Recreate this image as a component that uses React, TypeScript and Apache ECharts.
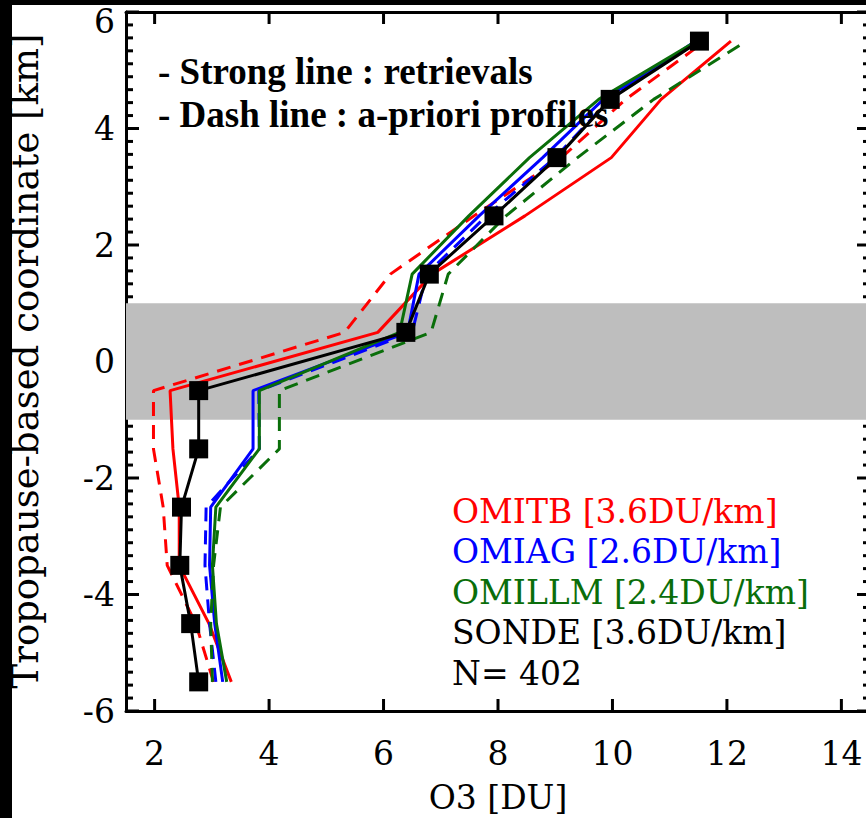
import React, { useEffect, useRef } from "react";
import * as echarts from "echarts";

// Tropopause-based layer centers (km)
const levels = [-5.5, -4.5, -3.5, -2.5, -1.5, -0.5, 0.5, 1.5, 2.5, 3.5, 4.5, 5.5];

// O3 [DU] per layer, bottom to top
const sonde = [2.77, 2.63, 2.44, 2.47, 2.77, 2.77, 6.39, 6.8, 7.93, 9.03, 9.96, 11.52];
const omitbRetrieval = [3.34, 2.95, 2.43, 2.43, 2.32, 2.27, 5.9, 6.85, 8.47, 9.98, 10.85, 12.07];
const omitbApriori = [3.03, 2.72, 2.22, 2.15, 1.98, 1.98, 5.32, 6.12, 7.58, 9.11, 10.23, 11.62];
const omiagRetrieval = [3.19, 3.05, 2.96, 2.98, 3.72, 3.72, 6.42, 6.62, 7.67, 8.78, 9.84, 11.5];
const omiagApriori = [3.07, 2.96, 2.88, 2.9, 3.83, 3.82, 6.5, 6.75, 7.8, 9.0, 9.95, 11.45];
const omillmRetrieval = [3.26, 3.08, 3.01, 3.07, 3.83, 3.83, 6.28, 6.5, 7.49, 8.55, 9.76, 11.47];
const omillmApriori = [3.01, 2.98, 3.03, 3.15, 4.18, 4.18, 6.83, 7.13, 8.14, 9.39, 10.72, 12.34];

const xTicks = [2, 4, 6, 8, 10, 12, 14];
const yTicks = [-6, -4, -2, 0, 2, 4, 6];
const yMinorPerMajor = 9;
const tropopauseBand = [-1, 1];

const legendLines = [
  "OMITB [3.6DU/km]",
  "OMIAG [2.6DU/km]",
  "OMILLM [2.4DU/km]",
  "SONDE [3.6DU/km]",
  "N= 402",
];
const noteLines = ["- Strong line : retrievals", "- Dash line : a-priori profiles"];

const RED = "#ff0000";
const BLUE = "#0000ff";
const GREEN = "#0a6e0a";
const BLACK = "#000000";
const legendColors = [RED, BLUE, GREEN, BLACK, BLACK];

const pairs = (xs: number[]) => xs.map((x, i) => [x, levels[i]]);

const SERIF = '"DejaVu Serif", serif';

export default function App() {
  const ref = useRef<HTMLDivElement>(null);

  useEffect(() => {
    if (!ref.current) return;
    const chart = echarts.init(ref.current, undefined, { renderer: "svg" });

    const lineSeries = (name: string, data: number[], color: string, dashed: boolean, z: number) => ({
      name,
      type: "line",
      data: pairs(data),
      showSymbol: false,
      symbol: "none",
      silent: true,
      z,
      lineStyle: { color, width: 3, type: dashed ? [14, 9] : "solid" },
    });

    const yMin = yTicks[0];
    const yMax = yTicks[yTicks.length - 1];
    const xMin = 1.5;
    const xMax = 14.5;

    // tick marks on the four frame sides: [x, y, dxPixels, dyPixels]
    const tickMarks: number[][] = [];
    yTicks.forEach((v) => {
      tickMarks.push([xMin, v, 13, 0]);
      tickMarks.push([xMax, v, -13, 0]);
    });
    for (let i = 0; i < yTicks.length - 1; i++) {
      for (let k = 1; k < yMinorPerMajor; k++) {
        const v = yTicks[i] + ((yTicks[i + 1] - yTicks[i]) * k) / yMinorPerMajor;
        tickMarks.push([xMin, v, 7, 0]);
        tickMarks.push([xMax, v, -7, 0]);
      }
    }
    xTicks.forEach((v) => {
      tickMarks.push([v, yMin, 0, -12]);
      tickMarks.push([v, yMax, 0, 12]);
    });

    const frameY = (pos: string) => ({
      type: "value",
      position: pos,
      min: yMin,
      max: yMax,
      interval: 2,
      axisLine: { show: true, onZero: false, lineStyle: { color: BLACK, width: 3 } },
      axisTick: { show: false },
      axisLabel: { show: false },
      splitLine: { show: false },
    });
    const frameX = (pos: string) => ({
      type: "value",
      position: pos,
      min: xMin,
      max: xMax,
      splitNumber: 7,
      axisLine: { show: true, onZero: false, lineStyle: { color: BLACK, width: 3 } },
      axisTick: { show: false },
      axisLabel: { show: false },
      splitLine: { show: false },
    });

    chart.setOption({
      animation: false,
      grid: { left: 126, top: 12, width: 744, height: 699 },
      xAxis: [
        {
          ...frameX("bottom"),
          axisLabel: {
            show: true,
            customValues: xTicks,
            fontFamily: SERIF,
            fontSize: 33,
            color: BLACK,
            margin: 26,
          },
        },
        frameX("top"),
      ],
      yAxis: [
        {
          ...frameY("left"),
          axisLabel: {
            show: true,
            fontFamily: SERIF,
            fontSize: 33,
            color: BLACK,
            margin: 11,
            formatter: (v: number) => (v === yMax ? "{top|" + v + "}" : String(v)),
            rich: {
              top: { fontFamily: SERIF, fontSize: 33, color: BLACK, padding: [18, 0, 0, 0] },
            },
          },
        },
        frameY("right"),
      ],
      series: [
        {
          name: "ticks",
          type: "custom",
          xAxisIndex: 0,
          yAxisIndex: 0,
          z: 0,
          silent: true,
          clip: false,
          encode: { x: 0, y: 1 },
          data: tickMarks,
          renderItem: (params: any, api: any) => {
            const p = api.coord([api.value(0), api.value(1)]);
            return {
              type: "line",
              shape: { x1: p[0], y1: p[1], x2: p[0] + api.value(2), y2: p[1] + api.value(3) },
              style: { stroke: BLACK, lineWidth: 3 },
            };
          },
        },
        {
          name: "band",
          type: "line",
          data: [],
          z: 1,
          silent: true,
          markArea: {
            silent: true,
            itemStyle: { color: "#bebebe" },
            data: [[{ yAxis: tropopauseBand[0] }, { yAxis: tropopauseBand[1] }]],
          },
        },
        lineSeries("OMITB a-priori", omitbApriori, RED, true, 3),
        lineSeries("OMITB", omitbRetrieval, RED, false, 3),
        lineSeries("OMIAG a-priori", omiagApriori, BLUE, true, 3),
        lineSeries("OMIAG", omiagRetrieval, BLUE, false, 3),
        lineSeries("OMILLM a-priori", omillmApriori, GREEN, true, 3),
        lineSeries("OMILLM", omillmRetrieval, GREEN, false, 3),
        {
          name: "SONDE",
          type: "line",
          data: pairs(sonde),
          symbol: "rect",
          symbolSize: 19,
          showSymbol: true,
          silent: true,
          z: 4,
          itemStyle: { color: BLACK },
          lineStyle: { color: BLACK, width: 3 },
        },
      ],
      graphic: [
        ...noteLines.map((t, i) => ({
          type: "text",
          x: 158,
          y: 71 + i * 43,
          z: 50,
          style: {
            text: t,
            fill: BLACK,
            font: 'bold 37px "Liberation Serif", "Times New Roman", serif',
            align: "left",
            verticalAlign: "middle",
          },
        })),
        ...legendLines.map((t, i) => ({
          type: "text",
          x: 452,
          y: 511 + i * 40.5,
          z: 50,
          style: {
            text: t,
            fill: legendColors[i],
            font: '33px "DejaVu Serif", serif',
            align: "left",
            verticalAlign: "middle",
          },
        })),
        {
          type: "text",
          x: 25,
          y: 361,
          rotation: Math.PI / 2,
          z: 50,
          style: {
            text: "Tropopause-based coordinate [km]",
            fill: BLACK,
            font: '37px "DejaVu Serif", serif',
            align: "center",
            verticalAlign: "middle",
          },
        },
        {
          type: "text",
          x: 498,
          y: 797,
          z: 50,
          style: {
            text: "O3 [DU]",
            fill: BLACK,
            font: '33px "DejaVu Serif", serif',
            align: "center",
            verticalAlign: "middle",
          },
        },
        { type: "rect", z: 100, shape: { x: 0, y: 0, width: 12, height: 818 }, style: { fill: BLACK } },
        { type: "rect", z: 100, shape: { x: 0, y: 0, width: 880, height: 5 }, style: { fill: BLACK } },
      ],
    });

    return () => chart.dispose();
  }, []);

  return (
    <div
      style={{
        position: "fixed",
        left: 0,
        top: 0,
        width: 866,
        height: 818,
        overflow: "hidden",
        background: "#fff",
      }}
    >
      <div ref={ref} style={{ width: 880, height: 818 }} />
    </div>
  );
}
